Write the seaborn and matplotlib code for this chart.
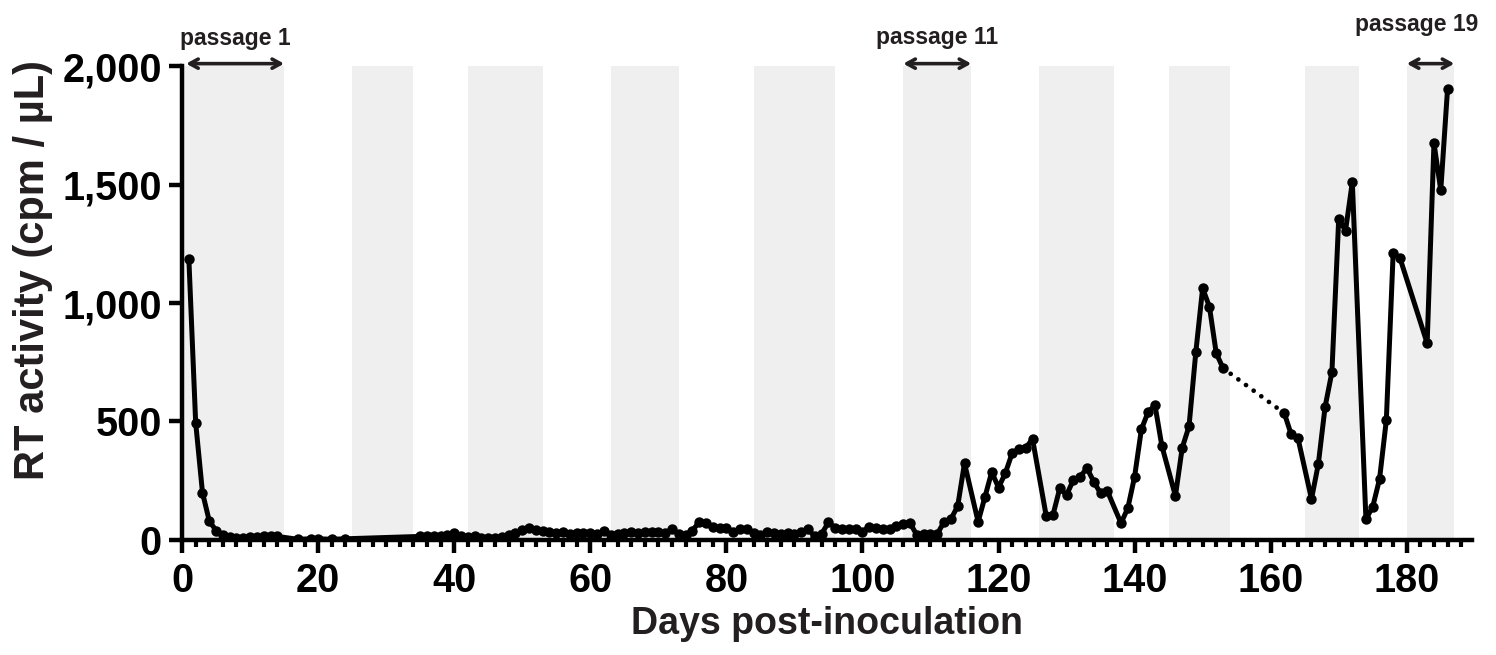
import numpy as np
import pandas as pd
import matplotlib
matplotlib.use('Agg')
import matplotlib.pyplot as plt
from matplotlib.ticker import MultipleLocator, FixedLocator
import seaborn as sns

# ------------------------------------------------------
# DATA
# ------------------------------------------------------

# Solid segment before the gap
days_a = [1, 2, 3, 4, 5, 6, 7, 8, 9, 10, 11, 12, 13, 14, 17, 19, 20, 22, 24,
          35, 36, 37, 38, 39, 40, 41, 42, 43, 44, 45, 46, 47, 48, 49, 50,
          51, 52, 53, 54, 55, 56, 57, 58, 59, 60, 61, 62, 63, 64, 65, 66,
          67, 68, 69, 70, 71, 72, 73, 74, 75, 76, 77, 78, 79, 80, 81, 82,
          83, 84, 85, 86, 87, 88, 89, 90, 91, 92, 93, 94, 95, 96, 97, 98,
          99, 100, 101, 102, 103, 104, 105, 106, 107, 108, 109, 110, 111,
          112, 113, 114, 115, 117, 118, 119, 120, 121, 122, 123, 124, 125,
          127, 128, 129, 130, 131, 132, 133, 134, 135, 136, 138, 139, 140,
          141, 142, 143, 144, 146, 147, 148, 149, 150, 151, 152, 153]
rt_a = [1185, 495, 200, 80, 40, 20, 12, 10, 10, 12, 12, 15, 15, 15, 3, 5, 5, 3, 5,
        15, 18, 15, 15, 20, 28, 18, 12, 15, 10, 8, 10, 12, 20, 30, 42,
        52, 42, 40, 35, 30, 32, 25, 28, 28, 30, 25, 38, 22, 25, 28, 35,
        30, 32, 32, 35, 30, 45, 25, 20, 40, 75, 70, 55, 50, 50, 35, 45,
        45, 30, 20, 35, 30, 25, 30, 25, 35, 45, 15, 25, 75, 50, 48, 45,
        45, 35, 55, 50, 48, 45, 60, 67, 71, 21, 25, 25, 25,
        77, 88, 143, 324, 77, 181, 287, 221, 282, 366, 383, 389, 426,
        103, 105, 218, 190, 253, 267, 303, 246, 197, 206, 71, 134, 267,
        467, 541, 568, 398, 186, 389, 480, 793, 1062, 984, 788, 725]

# Solid segment after the gap
days_b = [162, 163, 164, 166, 167, 168, 169, 170, 171, 172, 174, 175, 176,
          177, 178, 179, 183, 184, 185, 186]
rt_b = [535, 447, 431, 173, 320, 562, 708, 1355, 1305, 1510, 88, 140, 257,
        506, 1209, 1190, 830, 1675, 1476, 1905]

# Passage periods (shaded)
band_start = [0, 25, 42, 63, 84, 106, 126, 145, 165, 180]
band_end = [15, 34, 53, 73, 96, 116, 137, 154, 173, 187]

# Passage annotations
passage_labels = ['passage 1', 'passage 11', 'passage 19']
passage_start = [0.6, 106, 180]
passage_end = [15, 116, 187]

y_ticks = [0, 500, 1000, 1500, 2000]
y_tick_labels = ['0', '500', '1,000', '1,500', '2,000']
x_ticks = [0, 20, 40, 60, 80, 100, 120, 140, 160, 180]

# ------------------------------------------------------
# PLOT
# ------------------------------------------------------

sns.set_style('ticks')
plt.rcParams['font.family'] = ['Liberation Sans', 'DejaVu Sans']
plt.rcParams['font.weight'] = 'bold'

dark = '#231f20'

fig = plt.figure(figsize=(14.96, 6.55), dpi=100)
ax = fig.add_axes([0.1217, 0.1756, 0.8623, 0.7236])

# Shaded passages
for s, e in zip(band_start, band_end):
	ax.axvspan(s, e, color='#efefef', lw=0, zorder=0)

df_a = pd.DataFrame({'day': days_a, 'rt': rt_a})
df_b = pd.DataFrame({'day': days_b, 'rt': rt_b})
df_gap = pd.DataFrame({'day': [days_a[-1], days_b[0]], 'rt': [rt_a[-1], rt_b[0]]})

line_kw = dict(color='black', lw=3.6, marker='o', markersize=7.5,
	markeredgewidth=0, zorder=3)
sns.lineplot(data=df_a, x='day', y='rt', ax=ax, **line_kw)
sns.lineplot(data=df_b, x='day', y='rt', ax=ax, **line_kw)
sns.lineplot(data=df_gap, x='day', y='rt', ax=ax, color='black', lw=3.4,
	linestyle=(0, (0.01, 2.0)), dash_capstyle='round', zorder=2)

ax.set_xlim(0, 189.6)
ax.set_ylim(0, 2000)

ax.xaxis.set_major_locator(FixedLocator(x_ticks))
ax.xaxis.set_minor_locator(MultipleLocator(2))
ax.set_yticks(y_ticks)
ax.set_yticklabels(y_tick_labels)

ax.tick_params(axis='both', which='major', labelsize=28.5, width=3.2, length=9.5,
	color='black', labelcolor='black', pad=6)
ax.tick_params(axis='x', which='minor', width=3, length=5, color='black')
ax.tick_params(axis='y', which='major', pad=5)
for lab in ax.get_xticklabels() + ax.get_yticklabels():
	lab.set_fontweight('bold')

sns.despine(ax=ax)
for sp in ['left', 'bottom']:
	ax.spines[sp].set_linewidth(3.2)
	ax.spines[sp].set_color('black')

ax.set_xlabel('Days post-inoculation', fontsize=27, fontweight='bold',
	color=dark, labelpad=5)
ax.set_ylabel('RT activity (cpm / µL)', fontsize=30, fontweight='bold',
	color=dark)
ax.yaxis.set_label_coords(-0.1, 0.57)

# Passage arrows and labels
label_y = [2116, 2120, 2175]
for lab, s, e, ly in zip(passage_labels, passage_start, passage_end, label_y):
	ax.annotate('', xy=(s, 2010), xytext=(e, 2010), annotation_clip=False,
		arrowprops=dict(arrowstyle='<->,head_length=0.6,head_width=0.33',
			color=dark, lw=2.6, shrinkA=0, shrinkB=0))
	ax.text((s + e) / 2 if lab != 'passage 19' else 181.5, ly, lab,
		fontsize=16.5, fontweight='bold', color=dark, ha='center',
		va='center', clip_on=False)

fig.savefig('out.png', dpi=100)
